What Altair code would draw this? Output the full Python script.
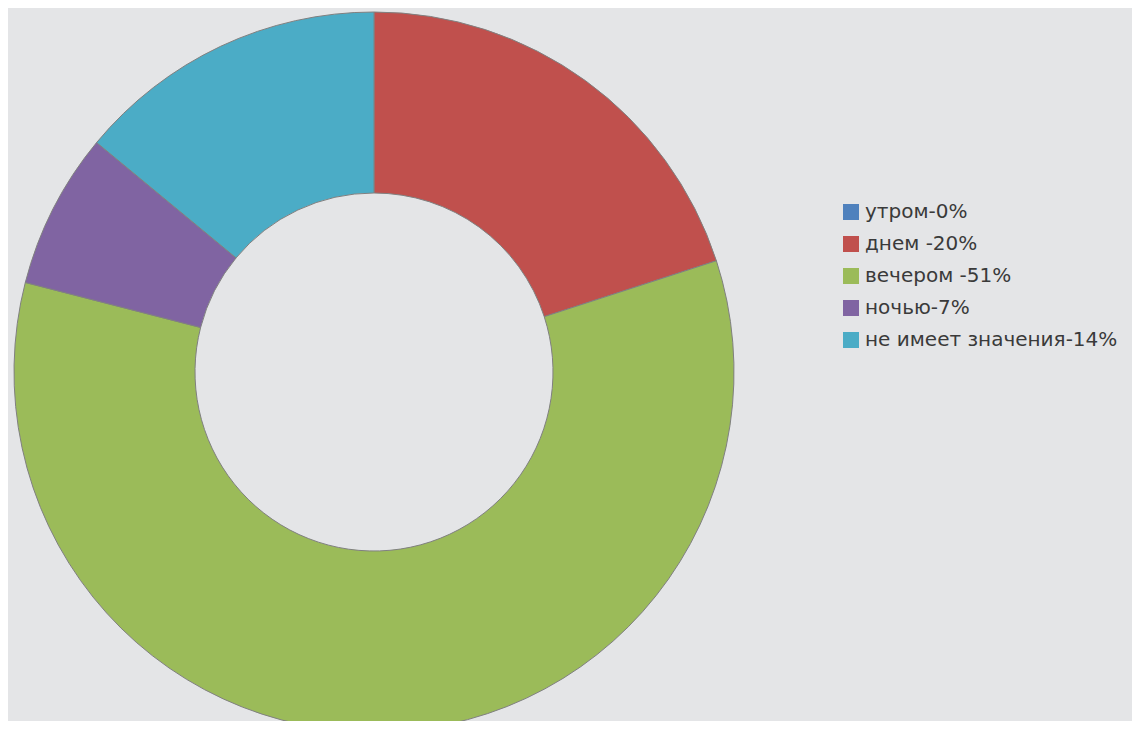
import altair as alt
import pandas as pd

labels = ["утром-0%", "днем -20%", "вечером -51%", "ночью-7%", "не имеет значения-14%"]
values = [0, 20, 59, 7, 14]
order = [0, 1, 2, 3, 4]
colors = ["#4F81BD", "#C0504D", "#9BBB59", "#8064A2", "#4BACC6"]

df = pd.DataFrame({"label": labels, "value": values, "idx": order})

chart = (
    alt.Chart(df)
    .mark_arc(outerRadius=360, innerRadius=179, stroke="#808080", strokeWidth=1)
    .encode(
        theta=alt.Theta("value:Q", stack=True),
        order=alt.Order("idx:Q", sort="ascending"),
        x=alt.value(366),
        y=alt.value(364),
        color=alt.Color(
            "label:N",
            scale=alt.Scale(domain=labels, range=colors),
            sort=labels,
            legend=alt.Legend(
                title=None,
                orient="none",
                legendX=833,
                legendY=194,
                symbolType="square",
                symbolSize=256,
                symbolStrokeWidth=0,
                labelFont="DejaVu Sans",
                labelFontSize=20,
                labelColor="#3a3a3a",
                labelOffset=4,
                rowPadding=12,
                labelLimit=400,
            ),
        ),
    )
    .properties(
        width=1124,
        height=713,
        padding=0,
        autosize=alt.AutoSizeParams(type="none"),
        background="#e4e5e7",
    )
    .configure_view(stroke=None)
)

chart.save("out.html", embed_options={"renderer": "svg", "actions": False})
